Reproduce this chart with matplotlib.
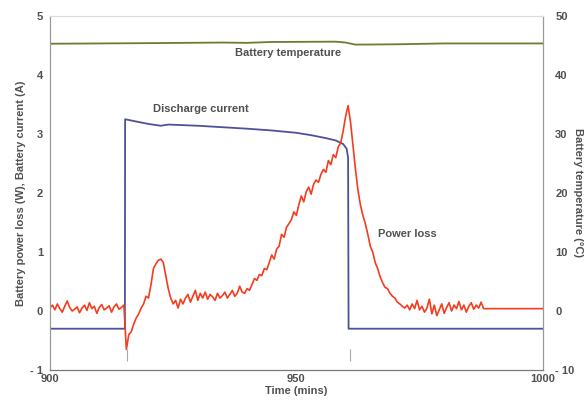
import matplotlib.pyplot as plt
import numpy as np

# power loss, sampled every 0.5 min from 900 to 988, then held flat
power_loss = [
    0.05, 0.10, 0.02, 0.12, 0.04, -0.02, 0.08, 0.17, 0.06, 0.00,   # 900
    0.03, 0.07, -0.03, 0.05, 0.10, 0.01, 0.14, 0.04, 0.08, -0.04,  # 905
    0.06, 0.11, 0.02, 0.05, 0.09, -0.02, 0.07, 0.12, 0.03, 0.06,   # 910
    0.10, -0.65, -0.40, -0.35, -0.22, -0.12, -0.05, 0.05, 0.12, 0.25,  # 915
    0.22, 0.45, 0.72, 0.80, 0.86, 0.88, 0.82, 0.60, 0.38, 0.22,    # 920
    0.12, 0.18, 0.05, 0.20, 0.12, 0.22, 0.28, 0.15, 0.25, 0.35,    # 925
    0.18, 0.30, 0.22, 0.32, 0.20, 0.28, 0.24, 0.18, 0.30, 0.22,    # 930
    0.26, 0.32, 0.22, 0.28, 0.35, 0.25, 0.30, 0.42, 0.32, 0.30,    # 935
    0.38, 0.35, 0.45, 0.55, 0.52, 0.62, 0.60, 0.72, 0.70, 0.82,    # 940
    0.95, 0.88, 1.05, 1.10, 1.30, 1.25, 1.42, 1.48, 1.55, 1.68,    # 945
    1.62, 1.80, 1.95, 1.85, 2.02, 2.10, 1.98, 2.15, 2.22, 2.18,    # 950
    2.32, 2.40, 2.35, 2.55, 2.48, 2.65, 2.60, 2.78, 2.85, 3.05,    # 955
    3.30, 3.48, 3.20, 2.80, 2.40, 2.05, 1.80, 1.62, 1.48, 1.30,    # 960
    1.10, 1.00, 0.82, 0.72, 0.58, 0.48, 0.40, 0.38, 0.30, 0.25,    # 965
    0.22, 0.15, 0.12, 0.08, 0.05, 0.10, 0.02, 0.12, 0.04, 0.18,    # 970
    0.02, 0.08, -0.02, 0.05, 0.20, -0.05, 0.10, -0.08, 0.02, 0.12,  # 975
    -0.04, 0.06, 0.14, 0.00, 0.10, 0.04, 0.16, 0.02, 0.10, -0.02,  # 980
    0.08, 0.14, 0.03, 0.10, 0.05, 0.15, 0.04,                      # 985
]
power_time = list(np.arange(len(power_loss)) * 0.5 + 900) + [1000]
power_loss = power_loss + [0.04]

current_time = [900, 915.2, 915.25, 917, 920, 922.5, 924, 930, 940, 945,
                950, 953, 956, 958, 959.5, 960.2, 960.5, 960.6, 1000]
current = [-0.3, -0.3, 3.25, 3.22, 3.17, 3.14, 3.16, 3.14, 3.09, 3.06,
           3.02, 2.98, 2.93, 2.89, 2.83, 2.75, 2.6, -0.3, -0.3]

temp_time = [900, 920, 935, 940, 945, 958, 960, 962, 970, 980, 1000]
temperature = [45.3, 45.4, 45.5, 45.45, 45.6, 45.65, 45.5, 45.15, 45.2, 45.35, 45.35]

event_times = [915.6, 960.8]

left_ticks = [-1, 0, 1, 2, 3, 4, 5]
left_labels = ["- 1", "0", "1", "2", "3", "4", "5"]
right_ticks = [-10, 0, 10, 20, 30, 40, 50]
right_labels = ["- 10", "0", "10", "20", "30", "40", "50"]
x_ticks = [900, 950, 1000]

txt = "#505050"
plt.rcParams['font.family'] = ['Liberation Sans', 'DejaVu Sans']

fig = plt.figure(figsize=(5.88, 4.0), dpi=100)
ax = fig.add_axes([0.085, 0.075, 0.838, 0.885])
ax2 = ax.twinx()

ax.plot(current_time, current, color="#50509a", lw=1.3)
ax.plot(power_time, power_loss, color="#f43c1e", lw=1.2)
ax.vlines(event_times, -0.85, -0.65, color="#aaaaaa", lw=0.8)
ax2.plot(temp_time, temperature, color="#6e7b32", lw=1.3)

ax.set_xlim(900, 1000)
ax.set_ylim(-1, 5)
ax2.set_ylim(-10, 50)
ax.set_xticks(x_ticks)
ax.set_yticks(left_ticks, left_labels)
ax2.set_yticks(right_ticks, right_labels)

for a in (ax, ax2):
    a.tick_params(length=0, labelsize=8, labelcolor=txt)
    for lab in a.get_xticklabels() + a.get_yticklabels():
        lab.set_fontweight("bold")
ax.tick_params(axis="y", pad=5)
ax.tick_params(axis="x", pad=3)
ax2.tick_params(axis="y", pad=9)

for a in (ax, ax2):
    a.spines["left"].set_color("#999999")
    a.spines["right"].set_color("#999999")
    a.spines["bottom"].set_color("#777777")
    a.spines["top"].set_color("#dddddd")

ax.set_xlabel("Time (mins)", fontsize=8, fontweight="bold", color=txt, labelpad=1)
ax.set_ylabel("Battery power loss (W), Battery current (A)", fontsize=8,
              fontweight="bold", color=txt, labelpad=3)
ax2.set_ylabel("Battery temperature (°C)", fontsize=8, fontweight="bold",
               color=txt, rotation=-90, labelpad=6)

ax.text(937.5, 4.33, "Battery temperature", fontsize=8, fontweight="bold", color=txt)
ax.text(921, 3.38, "Discharge current", fontsize=8, fontweight="bold", color=txt)
ax.text(966.5, 1.25, "Power loss", fontsize=8, fontweight="bold", color=txt)

fig.savefig("out.png", dpi=100)
